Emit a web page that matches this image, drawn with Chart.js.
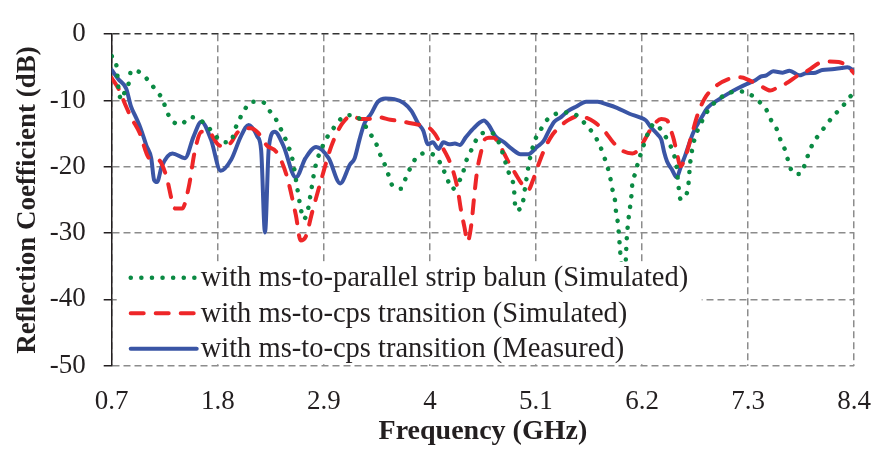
<!DOCTYPE html>
<html>
<head>
<meta charset="utf-8">
<script src="https://cdn.jsdelivr.net/npm/chart.js@4"></script>
<style>
  html, body { margin: 0; padding: 0; background: #fff; }
  canvas { display: block; }
</style>
</head>
<body>
<canvas id="s11-chart" width="891" height="452"></canvas>
<script>
// valeurs
const xTicks = [0.7, 1.8, 2.9, 4, 5.1, 6.2, 7.3, 8.4];

const balunFreq = [0.70, 0.75, 0.77, 0.80, 0.84, 0.88, 0.90, 1.00, 1.08, 1.16, 1.23, 1.27, 1.33, 1.42, 1.51, 1.61, 1.70, 1.78, 1.87, 1.94, 1.97, 2.02, 2.07, 2.15, 2.26, 2.34, 2.41, 2.46, 2.51, 2.58, 2.62, 2.66, 2.69, 2.73, 2.77, 2.81, 2.89, 2.94, 3.01, 3.09, 3.20, 3.30, 3.37, 3.44, 3.48, 3.53, 3.57, 3.61, 3.70, 3.75, 3.80, 3.86, 3.97, 4.07, 4.13, 4.18, 4.23, 4.28, 4.34, 4.37, 4.42, 4.47, 4.55, 4.63, 4.72, 4.79, 4.83, 4.87, 4.89, 4.95, 4.99, 5.03, 5.09, 5.15, 5.21, 5.31, 5.41, 5.53, 5.62, 5.70, 5.76, 5.80, 5.84, 5.87, 5.89, 5.92, 5.93, 5.95, 5.96, 5.97, 5.99, 6.03, 6.04, 6.06, 6.09, 6.10, 6.13, 6.16, 6.20, 6.26, 6.33, 6.42, 6.48, 6.53, 6.56, 6.58, 6.60, 6.65, 6.68, 6.70, 6.74, 6.78, 6.83, 6.88, 6.97, 7.07, 7.19, 7.31, 7.41, 7.49, 7.54, 7.60, 7.64, 7.69, 7.72, 7.77, 7.84, 7.89, 7.93, 7.98, 8.05, 8.12, 8.20, 8.28, 8.36, 8.40];
const balunDb = [-3.3, -4.8, -8.1, -9.9, -8.5, -7.2, -5.5, -5.8, -7, -8.5, -9.9, -11.6, -13.1, -13.6, -12.5, -12.9, -14, -15.4, -16.3, -16.2, -14.7, -13, -11.6, -10.2, -10.2, -11.6, -13, -14.5, -16.1, -19.2, -22.8, -26.2, -27.9, -26.8, -23.5, -20.1, -16.8, -15.4, -14, -12.6, -12.2, -13.2, -14.8, -16.4, -18, -19.6, -21.2, -22.8, -23.3, -21.7, -20.1, -18.6, -17.9, -18.6, -20.1, -21.8, -23.4, -22.6, -21.1, -19.4, -17.8, -16.2, -14.9, -14.8, -16.5, -19.6, -21.4, -23, -26.5, -26.2, -22.9, -19.3, -16, -14.4, -13, -12, -11.8, -12.3, -13.7, -15.1, -16.7, -18.2, -19.9, -21.6, -23.2, -25.1, -26.7, -28.5, -30.1, -32, -34.9, -34.4, -31.2, -27.9, -24.4, -22.5, -21, -19.3, -17.5, -15, -13.5, -14.9, -16.4, -18.1, -20, -23.1, -24.9, -24.5, -22.8, -19.4, -16.1, -14.4, -12.9, -11.6, -10.1, -9.1, -8.6, -9, -10.1, -11.4, -13, -14.4, -16.1, -17.7, -19.3, -21, -21.1, -19.6, -17.9, -16.3, -14.9, -13.5, -12.1, -10.9, -9.4, -9];

const cpsSimFreq = [0.70, 0.77, 0.84, 0.90, 0.99, 1.09, 1.19, 1.26, 1.36, 1.43, 1.50, 1.56, 1.63, 1.70, 1.80, 1.87, 1.94, 2.00, 2.07, 2.14, 2.22, 2.31, 2.41, 2.51, 2.61, 2.66, 2.71, 2.78, 2.88, 2.98, 3.09, 3.19, 3.28, 3.35, 3.46, 3.59, 3.73, 3.86, 3.98, 4.05, 4.12, 4.19, 4.24, 4.29, 4.32, 4.36, 4.39, 4.43, 4.46, 4.49, 4.53, 4.56, 4.61, 4.66, 4.72, 4.77, 4.82, 4.89, 4.95, 5.02, 5.07, 5.12, 5.19, 5.26, 5.33, 5.43, 5.53, 5.62, 5.70, 5.81, 5.90, 6.00, 6.10, 6.17, 6.24, 6.32, 6.40, 6.46, 6.50, 6.53, 6.56, 6.60, 6.65, 6.71, 6.78, 6.85, 6.95, 7.09, 7.22, 7.32, 7.43, 7.53, 7.61, 7.71, 7.81, 7.93, 8.03, 8.14, 8.24, 8.32, 8.40];
const cpsSimDb = [-6.6, -8.2, -10.6, -12.5, -14.9, -18.7, -19, -21.1, -26.3, -26.3, -23, -17.8, -14.7, -14.7, -16.6, -17, -16.3, -14.9, -14.2, -14.2, -14.9, -16.8, -17.8, -21.1, -27.3, -31.1, -30.6, -26.8, -21.6, -16.8, -13.5, -12.3, -12.8, -12.8, -12.5, -12.9, -13.2, -13.6, -14, -15, -16.8, -18.7, -20.6, -23.5, -26.3, -29.2, -31.3, -28.7, -24.4, -20.6, -17.8, -16.1, -15.6, -15.6, -16.6, -18, -19.4, -21.1, -22.5, -23.5, -22, -19.9, -17.3, -15.4, -14.2, -13, -12.4, -12.6, -13.2, -14.6, -16.3, -17.6, -18, -17.3, -15.6, -13.7, -12.8, -13, -14.5, -15.9, -17.8, -19.9, -18.5, -15.5, -12, -9.7, -8, -6.8, -6.5, -7, -7.8, -8.5, -8, -7.3, -6.3, -5.4, -4.4, -4.1, -4.2, -4.7, -5.9];

const cpsMesFreq = [0.70, 0.77, 0.85, 0.90, 0.95, 1.00, 1.06, 1.11, 1.14, 1.17, 1.22, 1.33, 1.46, 1.55, 1.63, 1.73, 1.83, 1.94, 2.04, 2.12, 2.21, 2.25, 2.29, 2.33, 2.39, 2.48, 2.61, 2.71, 2.82, 2.95, 3.07, 3.17, 3.22, 3.27, 3.32, 3.39, 3.46, 3.54, 3.63, 3.73, 3.81, 3.88, 3.93, 3.98, 4.03, 4.09, 4.14, 4.20, 4.26, 4.31, 4.37, 4.44, 4.51, 4.56, 4.61, 4.68, 4.77, 4.85, 4.94, 5.02, 5.11, 5.18, 5.24, 5.29, 5.36, 5.43, 5.52, 5.62, 5.74, 5.84, 5.94, 6.07, 6.17, 6.24, 6.29, 6.36, 6.40, 6.43, 6.46, 6.51, 6.56, 6.60, 6.65, 6.73, 6.82, 6.88, 6.99, 7.09, 7.19, 7.29, 7.37, 7.43, 7.49, 7.56, 7.66, 7.73, 7.83, 7.90, 8.00, 8.07, 8.17, 8.27, 8.33, 8.40];
const cpsMesDb = [-5.4, -6.8, -8.2, -10.9, -12.5, -14.2, -16.8, -18.7, -22, -22.3, -19.9, -18, -18.7, -15.4, -13.2, -15.9, -20.6, -18.9, -15.4, -13.7, -15.4, -17.5, -29.9, -17, -14.7, -16.8, -21.6, -18.7, -17, -18.7, -22.5, -19.7, -18.7, -15.9, -13.5, -12, -10.2, -9.7, -9.8, -10.4, -11.6, -13.5, -14.5, -16.6, -16.3, -17.3, -16.3, -16.6, -16.5, -16.7, -15.6, -14.4, -13.4, -13, -13.7, -15.4, -16.3, -17.3, -18.1, -18.1, -17, -16.1, -14.4, -13.2, -12.5, -11.6, -10.9, -10.2, -10.2, -10.6, -11.1, -12, -12.5, -13, -14, -15.1, -15.9, -17.8, -19.2, -20.4, -21.6, -20.1, -18.2, -14.9, -12.5, -11.1, -9.9, -9, -8.2, -7.5, -7, -6.4, -6.2, -5.6, -5.8, -5.5, -6.2, -5.9, -5.8, -5.4, -5.3, -5.1, -5, -5.5];

const seriesLabels = [
    'with ms-to-parallel strip balun (Simulated)',
    'with ms-to-cps transition (Simulated)',
    'with ms-to-cps transition (Measured)'
];

function toPoints(xs, ys) {
    return xs.map((x, i) => ({ x: x, y: ys[i] }));
}

const serif = "'Liberation Serif', 'Times New Roman', serif";

// légende dessinée dans la zone du graphique, sur fond blanc
const insideLegend = {
    id: 'insideLegend',
    afterDatasetsDraw(chart) {
        const ctx = chart.ctx;
        const area = chart.chartArea;
        const x0 = area.left + 5;
        const top = area.bottom - 104;
        ctx.save();
        ctx.fillStyle = '#fff';
        ctx.fillRect(x0, top, 585, 102);
        chart.data.datasets.forEach((ds, i) => {
            const y = top + 16 + i * 35.5;
            ctx.beginPath();
            ctx.strokeStyle = ds.borderColor;
            ctx.lineWidth = ds.borderWidth;
            ctx.lineCap = ds.borderCapStyle || 'butt';
            ctx.setLineDash(ds.borderDash || []);
            ctx.moveTo(x0 + 14, y);
            ctx.lineTo(x0 + 80, y);
            ctx.stroke();
            ctx.setLineDash([]);
            ctx.fillStyle = '#231f20';
            ctx.font = '28.5px ' + serif;
            ctx.textBaseline = 'middle';
            ctx.fillText(ds.label, x0 + 84, y + 1);
        });
        ctx.restore();
    }
};

const ctx = document.getElementById('s11-chart').getContext('2d');
new Chart(ctx, {
    type: 'line',
    data: {
        datasets: [
            {
                label: seriesLabels[0],
                data: toPoints(balunFreq, balunDb),
                borderColor: '#0a8a43',
                borderWidth: 4.5,
                borderDash: [0.1, 10.5],
                borderCapStyle: 'round',
                pointRadius: 0,
                cubicInterpolationMode: 'monotone'
            },
            {
                label: seriesLabels[1],
                data: toPoints(cpsSimFreq, cpsSimDb),
                borderColor: '#ee2628',
                borderWidth: 4,
                borderDash: [13, 12],
                borderCapStyle: 'round',
                pointRadius: 0,
                cubicInterpolationMode: 'monotone'
            },
            {
                label: seriesLabels[2],
                data: toPoints(cpsMesFreq, cpsMesDb),
                borderColor: '#3a55a5',
                borderWidth: 4,
                borderCapStyle: 'round',
                borderJoinStyle: 'round',
                pointRadius: 0,
                cubicInterpolationMode: 'monotone'
            }
        ]
    },
    options: {
        responsive: false,
        animation: false,
        layout: { padding: { top: 16, right: 21, left: 0, bottom: 0 } },
        plugins: {
            legend: { display: false },
            tooltip: { enabled: false }
        },
        scales: {
            x: {
                type: 'linear',
                min: 0.7,
                max: 8.4,
                afterBuildTicks: (axis) => { axis.ticks = xTicks.map(v => ({ value: v })); },
                afterFit: (axis) => { axis.height = 86.3; },
                ticks: {
                    color: '#231f20',
                    font: { family: serif, size: 27 },
                    padding: 20,
                    maxRotation: 0,
                    callback: (v) => String(v)
                },
                grid: { color: '#8c8c8c', lineWidth: 1.5, drawTicks: false },
                border: { display: false, dash: [7, 4] },
                title: {
                    display: true,
                    text: 'Frequency (GHz)',
                    color: '#231f20',
                    font: { family: serif, size: 28, weight: 'bold' },
                    padding: { top: 0, bottom: 3 }
                }
            },
            y: {
                min: -50,
                max: 0,
                afterFit: (axis) => { axis.width = 111.7; },
                ticks: {
                    stepSize: 10,
                    color: '#231f20',
                    font: { family: serif, size: 27 },
                    padding: 18
                },
                grid: {
                    color: (c) => c.tick && c.tick.value === 0 ? '#333' : '#8c8c8c',
                    lineWidth: 1.5,
                    tickLength: 8,
                    tickColor: '#231f20'
                },
                border: { display: true, color: '#231f20', width: 1.5, dash: [7, 4] },
                title: {
                    display: true,
                    text: 'Reflection Coefficient (dB)',
                    color: '#231f20',
                    font: { family: serif, size: 27, weight: 'bold' },
                    padding: { top: 12, bottom: 0 }
                }
            }
        }
    },
    plugins: [insideLegend]
});
</script>
</body>
</html>
